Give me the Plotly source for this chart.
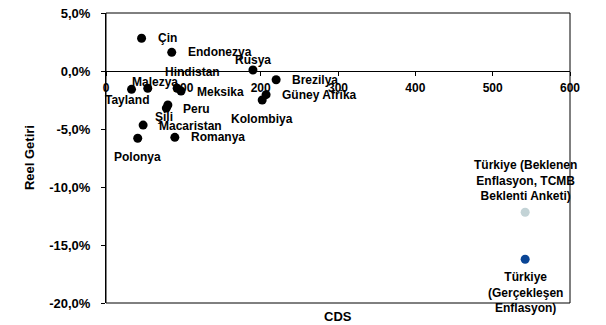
import plotly.graph_objects as go

# Data
countries = ["Çin", "Endonezya", "Rusya", "Brezilya", "Güney Afrika", "Kolombiya",
             "Hindistan", "Meksika", "Malezya", "Tayland", "Peru", "Şili",
             "Macaristan", "Polonya", "Romanya"]
cds = [46, 85, 190, 220, 207, 202, 92, 97, 54, 33, 80, 78, 48, 41, 89]
real_return = [2.82, 1.61, 0.09, -0.75, -2.04, -2.5, -1.49, -1.72, -1.49, -1.58,
               -2.93, -3.2, -4.66, -5.8, -5.72]

tr_names = ["Türkiye (Beklenen<br>Enflasyon, TCMB<br>Beklenti Anketi)",
            "Türkiye<br>(Gerçekleşen<br>Enflasyon)"]
tr_cds = [542, 542]
tr_return = [-12.18, -16.23]
tr_colors = ["#c3d3d6", "#0a4595"]

y_tickvals = [5, 0, -5, -10, -15, -20]
y_ticktext = ["5,0%", "0,0%", "-5,0%", "-10,0%", "-15,0%", "-20,0%"]
x_tickvals = [0, 100, 200, 300, 400, 500, 600]

# label placement (pixel offsets, style only)
label_pos = {
    "Çin": ("left", 14, 0), "Endonezya": ("left", 14, 0), "Rusya": ("center", 0, 10),
    "Brezilya": ("left", 14, 0), "Güney Afrika": ("left", 14, 0),
    "Kolombiya": ("center", 0, -19), "Hindistan": ("center", 15, 16),
    "Meksika": ("left", 14, -1), "Malezya": ("center", 7, 6),
    "Tayland": ("center", -5, -11), "Peru": ("left", 13, -4),
    "Şili": ("center", -2, -9), "Macaristan": ("left", 14, -1),
    "Polonya": ("center", 0, -19), "Romanya": ("left", 14, 0),
}
tr_label_pos = [("center", 0, 32), ("center", 0, -33)]

FONT = "Liberation Sans, Arial, sans-serif"

fig = go.Figure()
fig.add_trace(go.Scatter(x=cds, y=real_return, mode="markers",
                         marker=dict(color="black", size=9), showlegend=False))
fig.add_trace(go.Scatter(x=tr_cds, y=tr_return, mode="markers",
                         marker=dict(color=tr_colors, size=9), showlegend=False))

ann = []
for name, xv, yv in zip(countries, cds, real_return):
    anc, dx, dy = label_pos[name]
    ann.append(dict(x=xv, y=yv, text=name, showarrow=False, xanchor=anc, yanchor="middle",
                    xshift=dx, yshift=dy,
                    font=dict(family=FONT, size=12, color="black", weight="bold")))
for name, xv, yv, (anc, dx, dy) in zip(tr_names, tr_cds, tr_return, tr_label_pos):
    ann.append(dict(x=xv, y=yv, text=name, showarrow=False, xanchor=anc, yanchor="middle",
                    xshift=dx, yshift=dy,
                    font=dict(family=FONT, size=12, color="black", weight="bold")))
ann.append(dict(xref="paper", yref="paper", x=0.501, y=-0.047, text="CDS", showarrow=False,
                xanchor="center", yanchor="middle",
                font=dict(family=FONT, size=13, color="black", weight="bold")))
ann.append(dict(xref="paper", yref="paper", x=-0.166, y=0.503, text="Reel Getiri", showarrow=False,
                textangle=-90, xanchor="center", yanchor="middle",
                font=dict(family=FONT, size=13, color="black", weight="bold")))

fig.update_layout(
    width=606, height=325,
    margin=dict(l=106, r=36, t=13, b=22, pad=0),
    paper_bgcolor="white", plot_bgcolor="white",
    annotations=ann,
    shapes=[dict(type="rect", xref="paper", yref="paper", x0=0, x1=1, y0=0, y1=1,
                 line=dict(color="black", width=1))],
    xaxis=dict(range=[0, 600], tickvals=x_tickvals, showgrid=False, zeroline=False,
               anchor="free", position=0.8, showline=True, linecolor="black", linewidth=1,
               ticks="outside", ticklen=4, tickcolor="black", ticklabelstandoff=2,
               automargin=False,
               tickfont=dict(family=FONT, size=12, color="black", weight="bold")),
    yaxis=dict(range=[-20, 5], tickvals=y_tickvals, ticktext=y_ticktext, showgrid=False,
               zeroline=False, showline=True, linecolor="black", linewidth=1,
               ticks="outside", ticklen=4, tickcolor="black", ticklabelstandoff=8,
               automargin=False,
               tickfont=dict(family=FONT, size=13, color="black", weight="bold")),
)

fig.write_html("out.html", config={"displayModeBar": False},
               post_script="document.body.style.margin='0';")
